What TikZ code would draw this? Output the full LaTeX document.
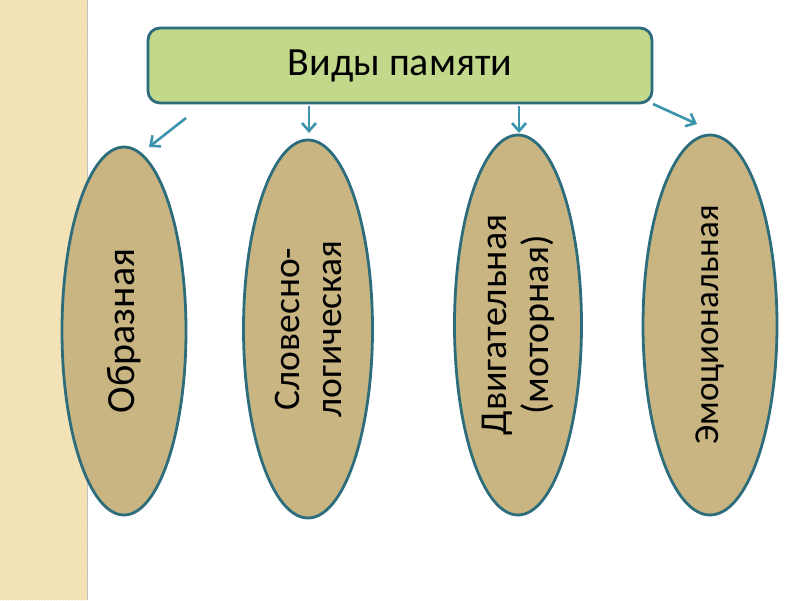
\documentclass[tikz,border=0pt]{standalone}
\usepackage{fontspec}
\setmainfont{Carlito}
\usetikzlibrary{shapes.geometric,arrows.meta,patterns}
\definecolor{strip}{HTML}{F5E5BB}
\definecolor{stripdot}{HTML}{EBD7A4}
\definecolor{titlefill}{HTML}{C2D98B}
\definecolor{edge}{HTML}{2D6C7B}
\definecolor{ovalfill}{HTML}{C8B582}
\definecolor{arrowc}{HTML}{3C93AC}
\tikzset{
  titlebox/.style={draw=edge, line width=2.8pt, fill=titlefill, rounded corners=12pt,
    minimum width=504pt, minimum height=75pt, inner sep=0pt, font=\fontsize{40}{44}\selectfont},
  oval/.style={ellipse, draw=edge, line width=2.8pt, fill=ovalfill, rotate=90, inner sep=0pt,
    align=center},
  conn/.style={draw=arrowc, line width=2.6pt, -{Straight Barb[length=8pt,width=14pt,line width=2.6pt]}}
}
\begin{document}
\begin{tikzpicture}[x=1pt,y=-1pt]
\useasboundingbox (0,0) rectangle (800,600);
\fill[strip] (0,0) rectangle (87,600);
\fill[pattern=crosshatch dots, pattern color=stripdot] (0,0) rectangle (87,600);
\draw[black!25, line width=1.2pt] (87.5,0) -- (87.5,600);
\node[titlebox] (title) at (400,65.5) {Виды памяти};
\node[oval, minimum width=368pt, minimum height=124pt, font=\fontsize{40}{42}\selectfont] (e1) at (124,331) {Образная};
\node[oval, minimum width=378pt, minimum height=129pt, font=\fontsize{37.5}{42}\selectfont] (e2) at (308,329) {Словесно-\\логическая};
\node[oval, minimum width=380pt, minimum height=127pt, font=\fontsize{38}{42}\selectfont] (e3) at (518,325) {Двигательная\\(моторная)};
\node[oval, minimum width=380pt, minimum height=134pt, font=\fontsize{35}{40}\selectfont] (e4) at (710,325) {Эмоциональная};
\coordinate (a1s) at (186,118); \coordinate (a1e) at (149,147);
\coordinate (a2s) at (309,106); \coordinate (a2e) at (309,133);
\coordinate (a3s) at (519,106); \coordinate (a3e) at (519,133);
\coordinate (a4s) at (653,104); \coordinate (a4e) at (697,124);
\draw[conn] (a1s) -- (a1e);
\draw[conn] (a2s) -- (a2e);
\draw[conn] (a3s) -- (a3e);
\draw[conn] (a4s) -- (a4e);
\end{tikzpicture}
\end{document}
